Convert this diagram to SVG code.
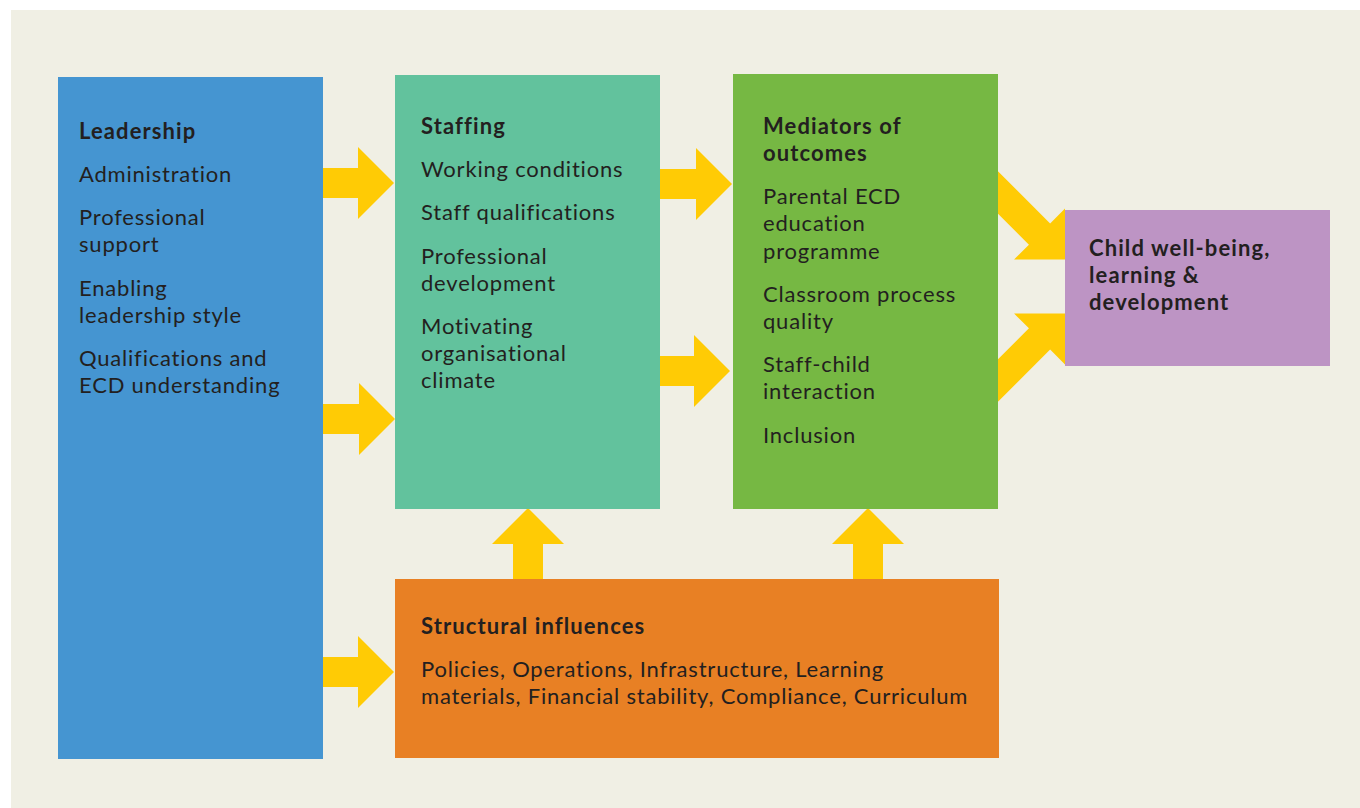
<svg xmlns="http://www.w3.org/2000/svg" width="1360" height="808" viewBox="0 0 1360 808">
  <style>
    .t { font-family: Lato, "Noto Sans", sans-serif; font-size: 22px; fill: #231f20; letter-spacing: 0.8px; }
    .b { font-weight: bold; letter-spacing: 1.1px; }
    .arrow { fill: #ffcb05; }
  </style>
  <defs>
    <!-- block arrow, tip at the origin, pointing along +x -->
    <path id="arrow" d="M-73,-15 H-36 V-36 L0,0 L-36,36 V15 H-73 Z"/>
    <path id="arrow-long" d="M-130,-15 H-36 V-36 L0,0 L-36,36 V15 H-130 Z"/>
  </defs>

  <rect x="0" y="0" width="1360" height="808" fill="#ffffff"/>
  <rect x="11" y="10" width="1349" height="798" fill="#f0efe4"/>

  <g id="connectors" class="arrow">
    <use href="#arrow" transform="translate(394,183)"/>
    <use href="#arrow" transform="translate(395,419)"/>
    <use href="#arrow" transform="translate(394,672)"/>
    <use href="#arrow" transform="translate(732,184)"/>
    <use href="#arrow" transform="translate(730,371)"/>
    <use href="#arrow" transform="translate(528,508) rotate(-90)"/>
    <use href="#arrow" transform="translate(868,508) rotate(-90)"/>
    <use href="#arrow-long" transform="translate(1065,259.5) rotate(45)"/>
    <use href="#arrow-long" transform="translate(1065,313.5) rotate(-45)"/>
  </g>

  <g id="leadership">
    <rect x="58" y="77" width="265" height="682" fill="#4595d1"/>
    <text class="t">
      <tspan class="b" x="79" y="139">Leadership</tspan>
      <tspan x="79" y="182">Administration</tspan>
      <tspan x="79" y="225">Professional</tspan>
      <tspan x="79" y="252">support</tspan>
      <tspan x="79" y="296">Enabling</tspan>
      <tspan x="79" y="323">leadership style</tspan>
      <tspan x="79" y="366">Qualifications and</tspan>
      <tspan x="79" y="393">ECD understanding</tspan>
    </text>
  </g>

  <g id="staffing">
    <rect x="395" y="75" width="265" height="434" fill="#62c29d"/>
    <text class="t">
      <tspan class="b" x="421" y="134">Staffing</tspan>
      <tspan x="421" y="177">Working conditions</tspan>
      <tspan x="421" y="220">Staff qualifications</tspan>
      <tspan x="421" y="264">Professional</tspan>
      <tspan x="421" y="291">development</tspan>
      <tspan x="421" y="334">Motivating</tspan>
      <tspan x="421" y="361">organisational</tspan>
      <tspan x="421" y="388">climate</tspan>
    </text>
  </g>

  <g id="mediators">
    <rect x="733" y="74" width="265" height="435" fill="#76b843"/>
    <text class="t">
      <tspan class="b" x="763" y="134">Mediators of</tspan>
      <tspan class="b" x="763" y="161">outcomes</tspan>
      <tspan x="763" y="204">Parental ECD</tspan>
      <tspan x="763" y="231">education</tspan>
      <tspan x="763" y="259">programme</tspan>
      <tspan x="763" y="302">Classroom process</tspan>
      <tspan x="763" y="329">quality</tspan>
      <tspan x="763" y="372">Staff-child</tspan>
      <tspan x="763" y="399">interaction</tspan>
      <tspan x="763" y="443">Inclusion</tspan>
    </text>
  </g>

  <g id="outcome">
    <rect x="1065" y="210" width="265" height="156" fill="#bd94c4"/>
    <text class="t b">
      <tspan x="1089" y="256">Child well-being,</tspan>
      <tspan x="1089" y="283">learning &amp;</tspan>
      <tspan x="1089" y="310">development</tspan>
    </text>
  </g>

  <g id="structural">
    <rect x="395" y="579" width="604" height="179" fill="#e88024"/>
    <text class="t">
      <tspan class="b" x="421" y="634">Structural influences</tspan>
      <tspan x="421" y="677">Policies, Operations, Infrastructure, Learning</tspan>
      <tspan x="421" y="704">materials, Financial stability, Compliance, Curriculum</tspan>
    </text>
  </g>
</svg>
